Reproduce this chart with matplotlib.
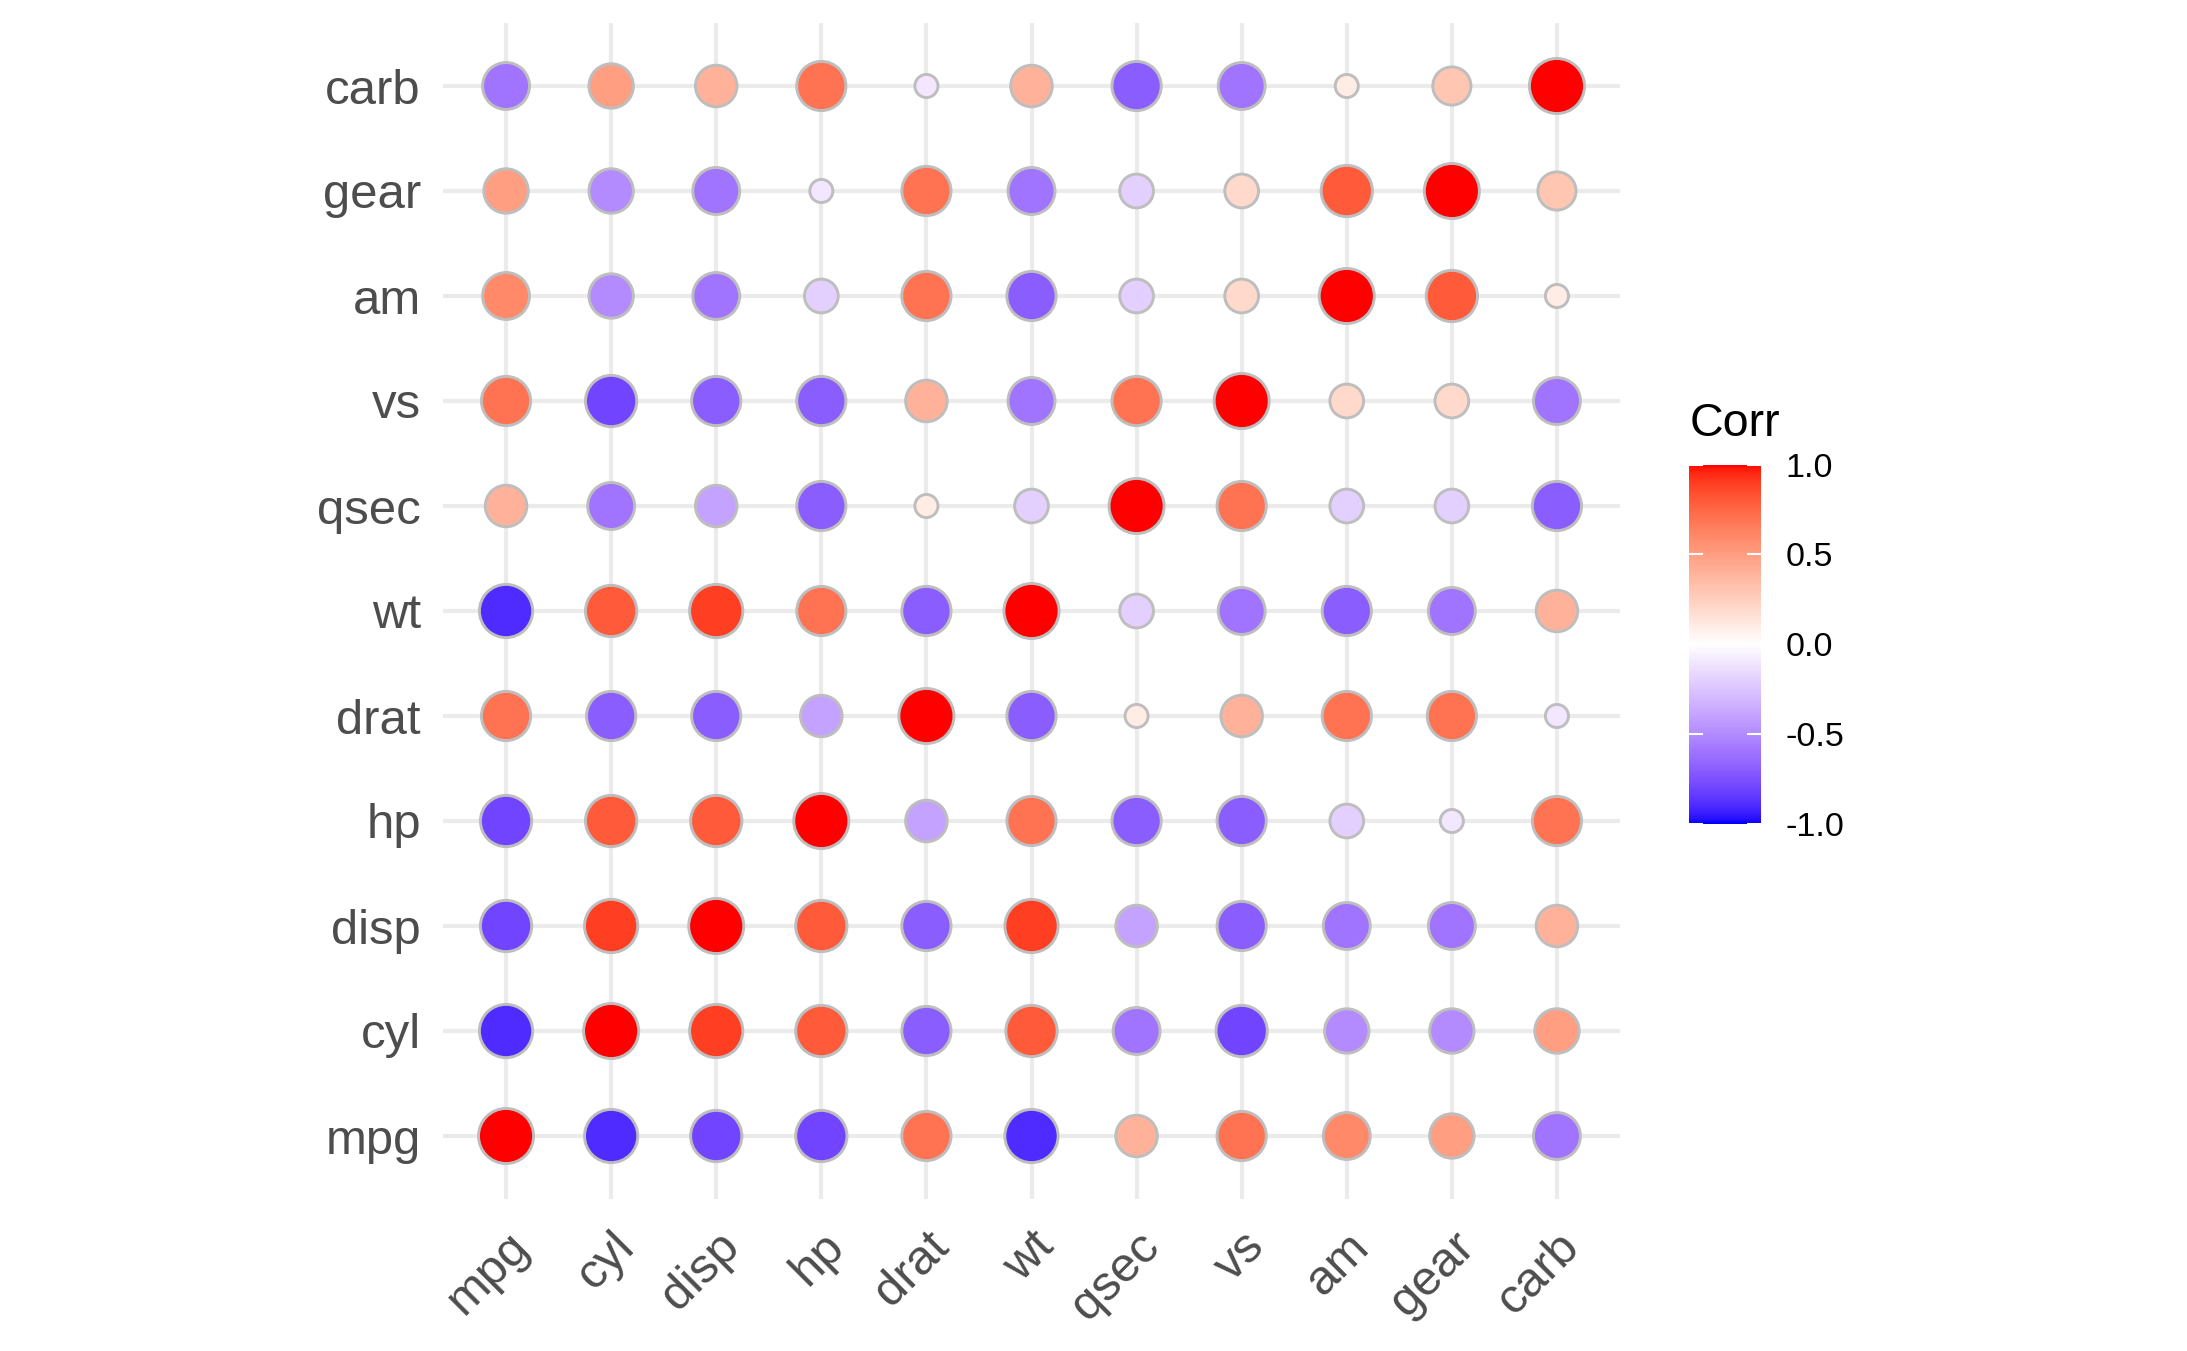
import numpy as np
import matplotlib
matplotlib.use("Agg")
import matplotlib.pyplot as plt
from matplotlib.colors import ListedColormap, Normalize

plt.rcParams['font.family'] = ['Liberation Sans', 'DejaVu Sans']

# mtcars correlation matrix, rounded to one digit (as shown in the plot)
variables = ["mpg", "cyl", "disp", "hp", "drat", "wt", "qsec", "vs", "am", "gear", "carb"]
corr = [
    [1.0, -0.9, -0.8, -0.8, 0.7, -0.9, 0.4, 0.7, 0.6, 0.5, -0.6],
    [-0.9, 1.0, 0.9, 0.8, -0.7, 0.8, -0.6, -0.8, -0.5, -0.5, 0.5],
    [-0.8, 0.9, 1.0, 0.8, -0.7, 0.9, -0.4, -0.7, -0.6, -0.6, 0.4],
    [-0.8, 0.8, 0.8, 1.0, -0.4, 0.7, -0.7, -0.7, -0.2, -0.1, 0.7],
    [0.7, -0.7, -0.7, -0.4, 1.0, -0.7, 0.1, 0.4, 0.7, 0.7, -0.1],
    [-0.9, 0.8, 0.9, 0.7, -0.7, 1.0, -0.2, -0.6, -0.7, -0.6, 0.4],
    [0.4, -0.6, -0.4, -0.7, 0.1, -0.2, 1.0, 0.7, -0.2, -0.2, -0.7],
    [0.7, -0.8, -0.7, -0.7, 0.4, -0.6, 0.7, 1.0, 0.2, 0.2, -0.6],
    [0.6, -0.5, -0.6, -0.2, 0.7, -0.7, -0.2, 0.2, 1.0, 0.8, 0.1],
    [0.5, -0.5, -0.6, -0.1, 0.7, -0.6, -0.2, 0.2, 0.8, 1.0, 0.3],
    [-0.6, 0.5, 0.4, 0.7, -0.1, 0.4, -0.7, -0.6, 0.1, 0.3, 1.0],
]
cbar_ticks = [-1.0, -0.5, 0.0, 0.5, 1.0]


# blue - white - red gradient interpolated in CIELAB (like ggplot)
WHITE = np.array([0.95047, 1.0, 1.08883])
M = np.array([[0.4124, 0.3576, 0.1805],
              [0.2126, 0.7152, 0.0722],
              [0.0193, 0.1192, 0.9505]])


def to_lab(rgb):
    rgb = np.asarray(rgb, float)
    lin = np.where(rgb <= 0.04045, rgb / 12.92, ((rgb + 0.055) / 1.055) ** 2.4)
    t = (M @ lin) / WHITE
    f = np.where(t > (6 / 29) ** 3, np.cbrt(t), t / (3 * (6 / 29) ** 2) + 4 / 29)
    return np.array([116 * f[1] - 16, 500 * (f[0] - f[1]), 200 * (f[1] - f[2])])


def from_lab(lab):
    L, a, b = lab
    fy = (L + 16) / 116
    f = np.array([fy + a / 500, fy, fy - b / 200])
    t = np.where(f > 6 / 29, f ** 3, 3 * (6 / 29) ** 2 * (f - 4 / 29))
    lin = np.linalg.solve(M, t * WHITE)
    lin = np.clip(lin, 0, 1)
    rgb = np.where(lin <= 0.0031308, 12.92 * lin, 1.055 * lin ** (1 / 2.4) - 0.055)
    return np.clip(rgb, 0, 1)


blue, white, red = to_lab([0, 0, 1]), to_lab([1, 1, 1]), to_lab([1, 0, 0])
cols = []
for v in np.linspace(-1, 1, 301):
    if v < 0:
        lab = white + (blue - white) * (-v)
    else:
        lab = white + (red - white) * v
    cols.append(from_lab(lab))
cmap = ListedColormap(cols)
norm = Normalize(-1, 1)

# points
C = np.array(corr)
n = len(variables)
xs, ys = np.meshgrid(np.arange(n), np.arange(n))
xs, ys, vals = xs.ravel(), ys.ravel(), C.ravel()
a = np.abs(vals)
d_mm = 4 + 6 * np.sqrt((a - a.min()) / (a.max() - a.min()))
dia = 1.28 * d_mm + 0.42

fig = plt.figure(figsize=(2187 / 300, 1351 / 300), dpi=300)
ax = fig.add_axes([443 / 2187, 1 - 1199 / 1351, (1620 - 443) / 2187, (1199 - 23) / 1351])
sc = ax.scatter(xs, ys, s=dia ** 2, c=vals, cmap=cmap, norm=norm,
                edgecolors="#BEBEBE", linewidths=0.7, zorder=3)

ax.set_xlim(-0.6, n - 0.4)
ax.set_ylim(-0.6, n - 0.4)
ax.set_xticks(range(n))
ax.set_yticks(range(n))
ax.set_xticklabels(variables, rotation=45, ha="right", va="top", rotation_mode="anchor")
ax.set_yticklabels(variables)
ax.tick_params(length=0, labelsize=11.8, labelcolor="#4D4D4D")
ax.tick_params(axis="y", pad=5.3)
ax.tick_params(axis="x", pad=6)
ax.grid(True, color="#EBEBEB", lw=1.0)
ax.set_axisbelow(True)
for sp in ax.spines.values():
    sp.set_visible(False)

# colour bar
cax = fig.add_axes([1689 / 2187, 1 - 823.5 / 1351, 72 / 2187, (823.5 - 464.7) / 1351])
cb = fig.colorbar(sc, cax=cax, ticks=cbar_ticks)
cb.outline.set_visible(False)
cb.ax.set_yticklabels(["%.1f" % t for t in cbar_ticks])
cax.tick_params(axis="y", direction="in", left=True, right=True, length=3.4,
                width=0.5, color="white", labelcolor="black", labelsize=8.2, pad=5.8)
fig.text(1690 / 2187, 1 - 436 / 1351, "Corr", fontsize=11.2, va="baseline", ha="left")

fig.savefig("out.png", dpi=300)
